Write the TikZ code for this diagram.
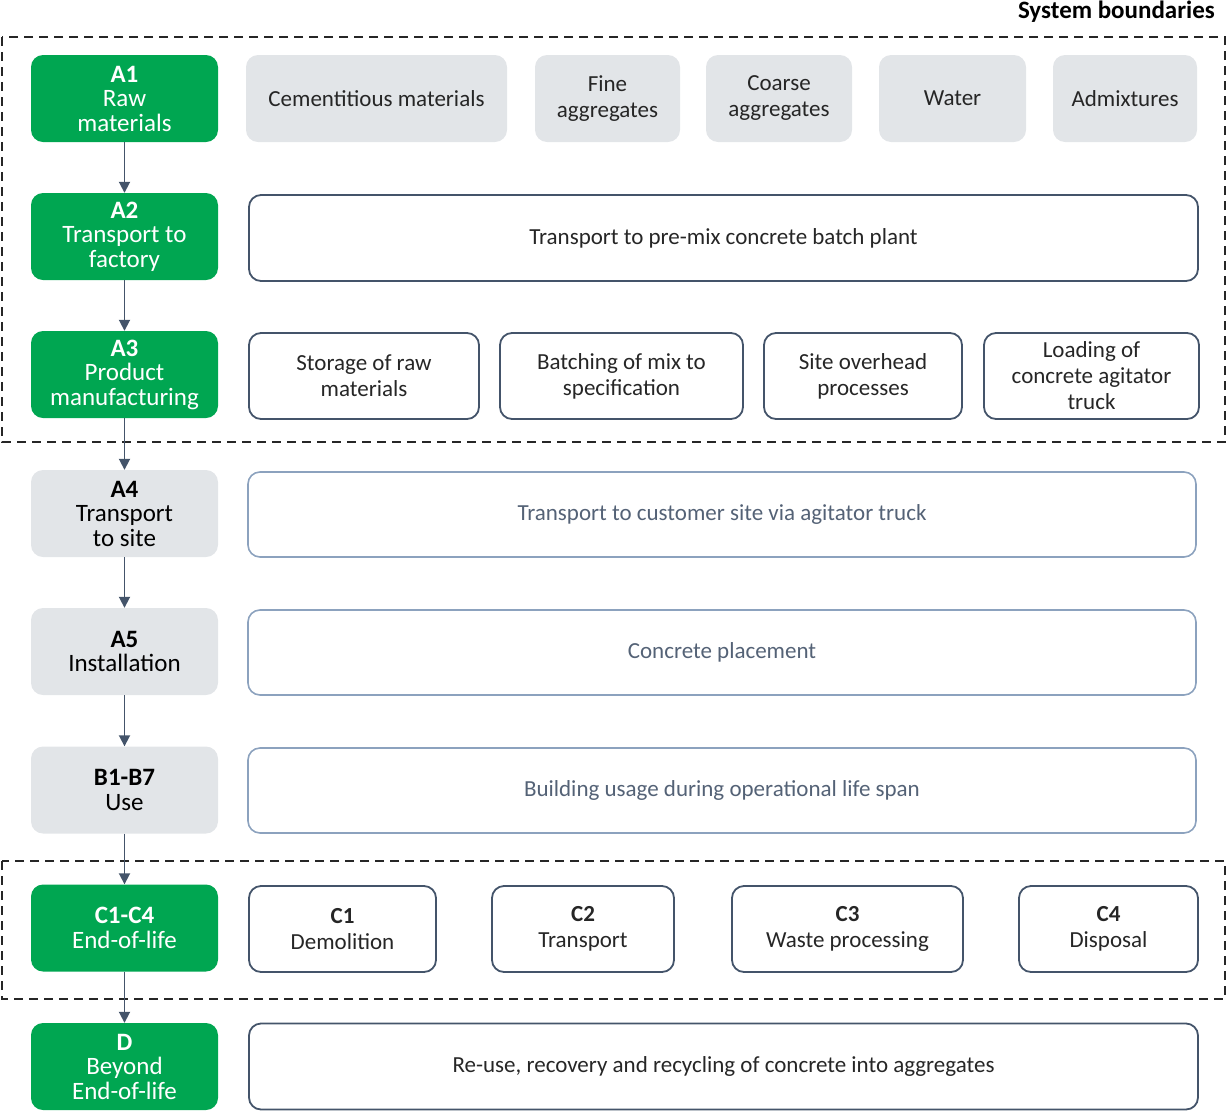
\documentclass[tikz,border=0pt]{standalone}
\usepackage{fontspec}
\setmainfont{Carlito}
\usetikzlibrary{arrows.meta}
\definecolor{stagegreen}{RGB}{0,166,81}
\definecolor{lightfill}{RGB}{226,229,232}
\definecolor{darkline}{RGB}{68,84,106}
\definecolor{paleline}{RGB}{140,162,190}
\definecolor{paletext}{RGB}{84,98,118}
\tikzset{
  base/.style={rectangle, rounded corners=12pt, align=center, inner sep=2pt,
    font=\fontsize{23}{26}\selectfont},
  stage/.style={base, font=\fontsize{25}{24.5}\selectfont, minimum width=187pt, minimum height=87pt},
  greenbox/.style={stage, fill=stagegreen, text=white},
  greybox/.style={stage, fill=lightfill, text=black},
  matbox/.style={base, fill=lightfill, text=black!85, minimum height=87pt},
  darkbox/.style={base, draw=darkline, line width=1.8pt, text=black!85, minimum height=86pt},
  palebox/.style={base, draw=paleline, line width=1.6pt, text=paletext, minimum height=85pt, minimum width=948pt},
  flow/.style={draw=darkline, line width=1.8pt, -{Triangle[width=11pt,length=11pt]}},
  boundary/.style={draw=black!85, line width=1.8pt, dash pattern=on 9pt off 6pt}
}
\begin{document}
\begin{tikzpicture}[x=1pt,y=-1pt]
\useasboundingbox (0,0) rectangle (1227,1112);
% system boundaries
\draw[boundary] (2,37) rectangle (1225,442);
\draw[boundary] (2,861) rectangle (1225,999);
\node[anchor=east, font=\fontsize{25}{25}\selectfont\bfseries, inner sep=0pt] (sb) at (1215,12) {System boundaries};
% left column
\node[greenbox] (a1) at (124.5,98.5) {\textbf{A1}\\Raw\\materials};
\node[greenbox] (a2) at (124.5,236.5) {\textbf{A2}\\Transport to\\factory};
\node[greenbox] (a3) at (124.5,374.5) {\textbf{A3}\\Product\\manufacturing};
\node[greybox] (a4) at (124.5,513.5) {\textbf{A4}\\Transport\\to site};
\node[greybox] (a5) at (124.5,651.5) {\textbf{A5}\\Installation};
\node[greybox] (b) at (124.5,790) {\textbf{B1-B7}\\Use};
\node[greenbox] (c) at (124.5,928) {\textbf{C1-C4}\\End-of-life};
\node[greenbox] (d) at (124.5,1066.5) {\textbf{D}\\Beyond\\End-of-life};
\foreach \u/\v in {a1/a2,a2/a3,a3/a4,a4/a5,a5/b,b/c,c/d}
  \draw[flow] (\u.south) -- (\v.north);
% row 1
\node[matbox, minimum width=261pt] (r1a) at (376.5,98.5) {Cementitious materials};
\node[matbox, minimum width=145pt] (r1b) at (607.5,98.5) {Fine\\aggregates};
\node[matbox, minimum width=146pt] (r1c) at (779,98.5) {Coarse\\aggregates};
\node[matbox, minimum width=147pt] (r1d) at (952.5,98.5) {Water};
\node[matbox, minimum width=144pt] (r1e) at (1125,98.5) {Admixtures};
% row 2
\node[darkbox, minimum width=949pt] (r2) at (723.5,238) {Transport to pre-mix concrete batch plant};
% row 3
\node[darkbox, minimum width=230pt] (r3a) at (364,376) {Storage of raw\\materials};
\node[darkbox, minimum width=243pt] (r3b) at (621.5,376) {Batching of mix to\\specification};
\node[darkbox, minimum width=198pt] (r3c) at (863,376) {Site overhead\\processes};
\node[darkbox, minimum width=215pt] (r3d) at (1091.5,376) {Loading of\\concrete agitator\\truck};
% rows 4-6
\node[palebox] (r4) at (722,514.5) {Transport to customer site via agitator truck};
\node[palebox] (r5) at (722,652.5) {Concrete placement};
\node[palebox] (r6) at (722,790.5) {Building usage during operational life span};
% row 7
\node[darkbox, minimum width=187pt] (r7a) at (342.5,929) {\textbf{C1}\\Demolition};
\node[darkbox, minimum width=182pt] (r7b) at (583,929) {\textbf{C2}\\Transport};
\node[darkbox, minimum width=231pt] (r7c) at (847.5,929) {\textbf{C3}\\Waste processing};
\node[darkbox, minimum width=179pt] (r7d) at (1108.5,929) {\textbf{C4}\\Disposal};
% row 8
\node[darkbox, minimum width=949pt] (r8) at (723.5,1066.5) {Re-use, recovery and recycling of concrete into aggregates};
\end{tikzpicture}
\end{document}
